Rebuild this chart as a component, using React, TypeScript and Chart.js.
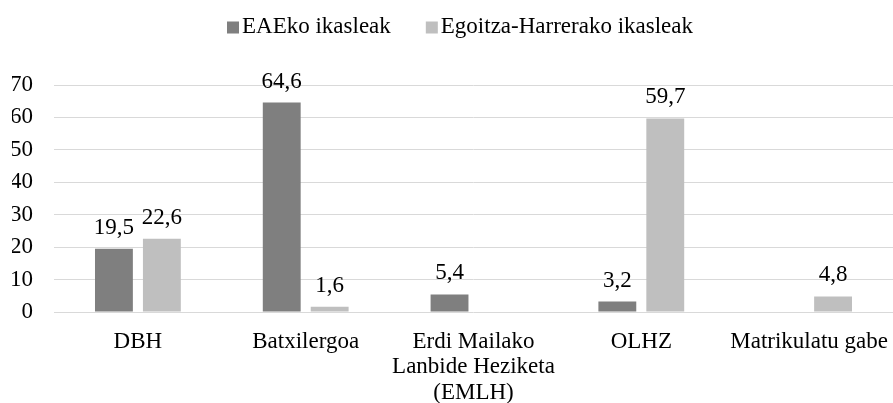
import React, { useEffect, useRef } from "react";
import { Chart, registerables } from "chart.js";

Chart.register(...registerables);

const categories: (string | string[])[] = [
  "DBH",
  "Batxilergoa",
  ["Erdi Mailako", "Lanbide Heziketa", "(EMLH)"],
  "OLHZ",
  "Matrikulatu gabe",
];
const seriesNames = ["EAEko ikasleak", "Egoitza-Harrerako ikasleak"];
const eaeValues: (number | null)[] = [19.5, 64.6, 5.4, 3.2, null];
const egoitzaValues: (number | null)[] = [22.6, 1.6, null, 59.7, 4.8];
const yTicks = [0, 10, 20, 30, 40, 50, 60, 70];
const colors = ["#7f7f7f", "#bfbfbf"];

const FONT = '"Liberation Serif", "Times New Roman", serif';
const FS = 23;

const fmt = (v: number) => v.toFixed(1).replace(".", ",");

const dataLabelPlugin = {
  id: "dataLabels",
  afterDatasetsDraw(chart: any) {
    const ctx = chart.ctx;
    ctx.save();
    ctx.font = `${FS}px ${FONT}`;
    ctx.fillStyle = "#000";
    ctx.textAlign = "center";
    ctx.textBaseline = "alphabetic";
    chart.data.datasets.forEach((ds: any, i: number) => {
      const meta = chart.getDatasetMeta(i);
      meta.data.forEach((bar: any, j: number) => {
        const v = ds.data[j];
        if (v === null || v === undefined) return;
        ctx.fillText(fmt(v), bar.x, bar.y - 15);
      });
    });
    ctx.restore();
  },
};

const legendPlugin = {
  id: "customLegend",
  afterDraw(chart: any) {
    const ctx = chart.ctx;
    ctx.save();
    ctx.font = `${FS}px ${FONT}`;
    ctx.textBaseline = "alphabetic";
    ctx.textAlign = "left";
    const box = 12;
    const boxGap = 3;
    const itemGap = 35;
    let x = 227;
    const baseline = 33;
    seriesNames.forEach((n, i) => {
      ctx.fillStyle = colors[i];
      ctx.fillRect(x, baseline - 11.5, box, box);
      ctx.fillStyle = "#000";
      ctx.fillText(n, x + box + boxGap, baseline);
      x += box + boxGap + ctx.measureText(n).width + itemGap;
    });
    ctx.restore();
  },
};

export default function App() {
  const ref = useRef<HTMLCanvasElement | null>(null);
  useEffect(() => {
    document.body.style.margin = "0";
    if (!ref.current) return;
    const chart = new Chart(ref.current, {
      type: "bar",
      data: {
        labels: categories,
        datasets: [
          {
            label: seriesNames[0],
            data: eaeValues,
            backgroundColor: colors[0],
            categoryPercentage: 0.5714,
            barPercentage: 0.79,
          },
          {
            label: seriesNames[1],
            data: egoitzaValues,
            backgroundColor: colors[1],
            categoryPercentage: 0.5714,
            barPercentage: 0.79,
          },
        ],
      },
      options: {
        animation: false,
        responsive: false,
        maintainAspectRatio: false,
        layout: { padding: { top: 85, left: 12, right: 0, bottom: 0 } },
        plugins: {
          legend: { display: false },
          tooltip: { enabled: false },
          title: { display: false },
        },
        scales: {
          x: {
            grid: { display: false, drawTicks: false },
            border: { display: false },
            ticks: {
              color: "#000",
              font: { family: FONT, size: FS, lineHeight: 1.11 },
              padding: 17,
              maxRotation: 0,
              autoSkip: false,
            },
            afterFit: (scale: any) => {
              scale.height = 91;
              scale.paddingLeft = 0;
              scale.paddingRight = 0;
            },
          },
          y: {
            min: 0,
            max: 70,
            afterBuildTicks: (scale: any) => {
              scale.ticks = yTicks.map((v) => ({ value: v }));
            },
            grid: { color: "#d9d9d9", lineWidth: 1, drawTicks: false },
            border: { display: false },
            ticks: {
              color: "#000",
              font: { family: FONT, size: FS },
              padding: 21,
            },
            afterFit: (scale: any) => {
              scale.width = 42;
              scale.paddingTop = 0;
              scale.paddingBottom = 0;
            },
          },
        },
      },
      plugins: [dataLabelPlugin, legendPlugin],
    });
    return () => chart.destroy();
  }, []);
  return (
    <div style={{ width: 893, height: 403 }}>
      <canvas ref={ref} width={893} height={403} style={{ display: "block" }} />
    </div>
  );
}
